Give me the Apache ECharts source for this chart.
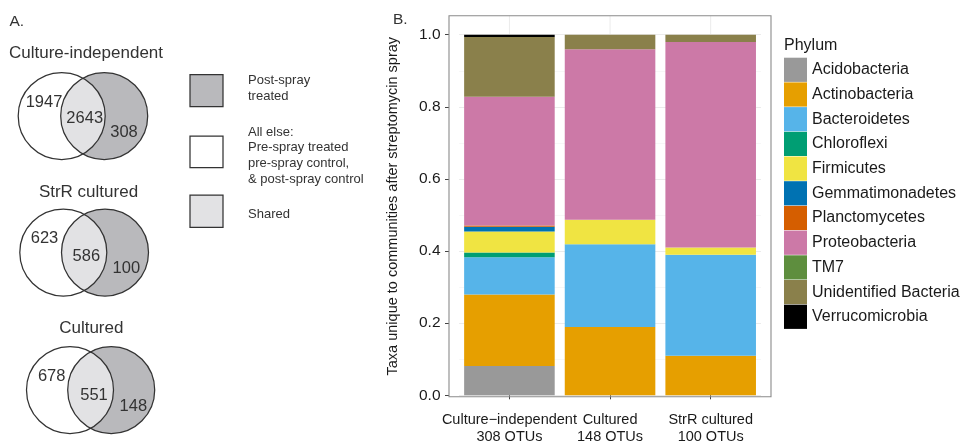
<!DOCTYPE html>
<html>
<head>
<meta charset="utf-8">
<script src="https://cdn.jsdelivr.net/npm/echarts@6/dist/echarts.min.js"></script>
<style>
  html, body { margin: 0; padding: 0; background: #ffffff; }
  #chart { width: 970px; height: 443px; }
</style>
</head>
<body>
<div id="chart"></div>
<script>
// ---- Panel B data: OTUs unique to post-spray communities, by phylum ----
const categories = ['Culture−independent', 'Cultured', 'StrR cultured'];
const otuTotals = [308, 148, 100];

const phyla = [
  'Acidobacteria', 'Actinobacteria', 'Bacteroidetes', 'Chloroflexi', 'Firmicutes',
  'Gemmatimonadetes', 'Planctomycetes', 'Proteobacteria', 'TM7',
  'Unidentified Bacteria', 'Verrucomicrobia'
];
const phylumColors = [
  '#999999', '#E69F00', '#56B4E9', '#009E73', '#F0E442',
  '#0072B2', '#D55E00', '#CC79A7', '#5E8E3E', '#8A804B', '#000000'
];

// OTU counts per phylum, in category order
const acidobacteria       = [25, 0, 0];
const actinobacteria      = [61, 28, 11];
const bacteroidetes       = [32, 34, 28];
const chloroflexi         = [4, 0, 0];
const firmicutes          = [18, 10, 2];
const gemmatimonadetes    = [4, 0, 0];
const planctomycetes      = [1, 0, 0];
const proteobacteria      = [110, 70, 57];
const tm7                 = [0, 0, 0];
const unidentified        = [51, 6, 2];
const verrucomicrobia     = [2, 0, 0];

const phylumCounts = [
  acidobacteria, actinobacteria, bacteroidetes, chloroflexi, firmicutes,
  gemmatimonadetes, planctomycetes, proteobacteria, tm7, unidentified, verrucomicrobia
];

const yTicks = [0, 0.2, 0.4, 0.6, 0.8, 1.0];

// ---- Panel A data: Venn counts (all else only / shared / post-spray treated only) ----
const vennTitles = ['Culture-independent', 'StrR cultured', 'Cultured'];
const vennCounts = [
  [1947, 2643, 308],
  [623, 586, 100],
  [678, 551, 148]
];
const keyLabels = [
  ['Post-spray', 'treated'],
  ['All else:', 'Pre-spray treated', 'pre-spray control,', '& post-spray control'],
  ['Shared']
];

// ---- Layout & style ----
const FONT = '"Liberation Sans", Arial, Helvetica, sans-serif';
const TXT = '#333333';
const panel = { x0: 449, y0: 15.7, x1: 771, y1: 396.7 };
const gridBox = { left: 459.1, right: 970 - 761.0, top: 34.7, bottom: 443 - 395.3, outerBoundsMode: 'none' };
const fillOuter = '#ffffff';
const fillPost = '#b9b9bc';
const fillShared = '#e2e2e4';

const vennLayout = [
  { c1: [61.7, 116], c2: [104.2, 116], r: 43.5, title: [86, 53],
    labels: [[44, 102], [84.7, 118], [124, 132]] },
  { c1: [63.3, 252.5], c2: [105, 252.5], r: 43.5, title: [88.5, 192],
    labels: [[44.5, 238], [86.3, 256], [126.3, 268]] },
  { c1: [70, 390], c2: [111.2, 390], r: 43.5, title: [91.3, 328],
    labels: [[51.7, 376.7], [94, 395], [133.3, 406]] }
];
const keyLayout = [
  { box: [190, 74.7, 33, 32], fill: fillPost, lines: [80.7, 96] },
  { box: [190, 136, 33, 31.7], fill: fillOuter, lines: [132.3, 147.3, 163.3, 179] },
  { box: [190, 195, 33, 32.3], fill: fillShared, lines: [214.3] }
];

const chart = echarts.init(document.getElementById('chart'), null, { renderer: 'canvas' });

const series = phyla.map((name, i) => ({
  name: name,
  type: 'bar',
  stack: 'phylum',
  barCategoryGap: '10%',
  itemStyle: { color: phylumColors[i] },
  emphasis: { disabled: true },
  data: phylumCounts[i].map((c, k) => c / otuTotals[k])
}));

chart.setOption({
  animation: false,
  backgroundColor: '#ffffff',
  textStyle: { fontFamily: FONT },
  grid: gridBox,
  legend: {
    orient: 'vertical',
    left: 784,
    top: 57.7,
    padding: 0,
    itemWidth: 23,
    itemHeight: 24.2,
    itemGap: 0.5,
    icon: 'rect',
    selectedMode: false,
    textStyle: { fontFamily: FONT, fontSize: 16, color: '#1a1a1a' },
    data: phyla
  },
  xAxis: {
    type: 'category',
    data: categories.map((c, k) => c + '\n' + otuTotals[k] + ' OTUs'),
    offset: panel.y1 - 395.3,
    axisLine: { show: false },
    axisTick: { show: true, alignWithLabel: true, length: 4, lineStyle: { color: '#444', width: 1 } },
    axisLabel: { interval: 0, margin: 15, fontFamily: FONT, fontSize: 14.5, lineHeight: 17, color: '#1a1a1a' },
    splitLine: { show: false }
  },
  yAxis: {
    type: 'value',
    min: 0,
    max: 1,
    interval: 0.2,
    offset: gridBox.left - panel.x0,
    axisLine: { show: false },
    axisTick: { show: true, length: 4, lineStyle: { color: '#444', width: 1 } },
    axisLabel: { margin: 8.5, fontFamily: FONT, fontSize: 15.5, color: '#1a1a1a',
      formatter: v => yTicks.indexOf(+v.toFixed(1)) >= 0 ? v.toFixed(1) : '' },
    splitLine: { show: true, lineStyle: { color: '#ebebeb', width: 1 } },
    minorTick: { show: false, splitNumber: 2 },
    minorSplitLine: { show: true, lineStyle: { color: '#f4f4f4', width: 0.7 } }
  },
  series: series
});

// ---- Decorations: panel frame, vertical grid lines, titles, Venn diagrams ----
const g = [];

// vertical grid lines at category centres, above the bars up to the panel top
categories.forEach((c, k) => {
  const x = chart.convertToPixel({ xAxisIndex: 0 }, k);
  g.push({ type: 'line', z: 0, silent: true,
    shape: { x1: x, y1: panel.y0, x2: x, y2: gridBox.top },
    style: { stroke: '#ebebeb', lineWidth: 1 } });
});

// panel border
g.push({ type: 'rect', z: 20, silent: true,
  shape: { x: panel.x0, y: panel.y0, width: panel.x1 - panel.x0, height: panel.y1 - panel.y0 },
  style: { fill: 'none', stroke: '#8a8a8a', lineWidth: 1.1 } });

// y axis title
g.push({ type: 'text', z: 20, x: 393, y: (panel.y0 + panel.y1) / 2, rotation: Math.PI / 2,
  style: { text: 'Taxa unique to communities after streptomycin spray', fontFamily: FONT,
    fontSize: 14.5, fill: '#1a1a1a', align: 'center', verticalAlign: 'middle' } });

// legend title
g.push({ type: 'text', z: 20, x: 784, y: 46,
  style: { text: 'Phylum', fontFamily: FONT, fontSize: 16, fill: '#1a1a1a',
    align: 'left', verticalAlign: 'middle' } });

// panel letters
g.push({ type: 'text', z: 20, x: 9.5, y: 21.5,
  style: { text: 'A.', fontFamily: FONT, fontSize: 15.5, fill: TXT, align: 'left', verticalAlign: 'middle' } });
g.push({ type: 'text', z: 20, x: 393, y: 19.5,
  style: { text: 'B.', fontFamily: FONT, fontSize: 15.5, fill: TXT, align: 'left', verticalAlign: 'middle' } });

// lens (intersection) outline of two equal circles as a polygon
function lensPoints(c1, c2, r) {
  const cy = (c1[1] + c2[1]) / 2;
  const d = c2[0] - c1[0];
  const a = Math.acos(d / 2 / r);
  const pts = [];
  const steps = 48;
  // arc of the left circle (right-hand boundary of the lens)
  for (let s = 0; s <= steps; s++) {
    const t = -a + (2 * a * s) / steps;
    pts.push([c1[0] + r * Math.cos(t), cy + r * Math.sin(t)]);
  }
  // arc of the right circle (left-hand boundary of the lens)
  for (let s = 0; s <= steps; s++) {
    const t = Math.PI - a + (2 * a * s) / steps;
    pts.push([c2[0] + r * Math.cos(t), cy + r * Math.sin(t)]);
  }
  return pts;
}

// Venn diagrams
vennLayout.forEach((v, i) => {
  const r = v.r;
  g.push({ type: 'circle', z: 10, silent: true,
    shape: { cx: v.c1[0], cy: v.c1[1], r: r }, style: { fill: fillOuter, stroke: 'none' } });
  g.push({ type: 'circle', z: 10, silent: true,
    shape: { cx: v.c2[0], cy: v.c2[1], r: r }, style: { fill: fillPost, stroke: 'none' } });
  g.push({ type: 'polygon', z: 11, silent: true,
    shape: { points: lensPoints(v.c1, v.c2, r) },
    style: { fill: fillShared, stroke: 'none' } });
  [v.c1, v.c2].forEach(c => g.push({ type: 'circle', z: 12, silent: true,
    shape: { cx: c[0], cy: c[1], r: r }, style: { fill: 'none', stroke: '#333', lineWidth: 1.25 } }));
  g.push({ type: 'text', z: 13, x: v.title[0], y: v.title[1],
    style: { text: vennTitles[i], fontFamily: FONT, fontSize: 17, fill: TXT,
      align: 'center', verticalAlign: 'middle' } });
  vennCounts[i].forEach((n, j) => g.push({ type: 'text', z: 13,
    x: v.labels[j][0], y: v.labels[j][1],
    style: { text: String(n), fontFamily: FONT, fontSize: 16.5, fill: TXT,
      align: 'center', verticalAlign: 'middle' } }));
});

// Venn key
keyLayout.forEach((k, i) => {
  g.push({ type: 'rect', z: 10, silent: true,
    shape: { x: k.box[0], y: k.box[1], width: k.box[2], height: k.box[3] },
    style: { fill: k.fill, stroke: '#333', lineWidth: 1.25 } });
  keyLabels[i].forEach((t, j) => g.push({ type: 'text', z: 13, x: 248, y: k.lines[j],
    style: { text: t, fontFamily: FONT, fontSize: 13, fill: TXT, align: 'left', verticalAlign: 'middle' } }));
});

chart.setOption({ graphic: g });
</script>
</body>
</html>
